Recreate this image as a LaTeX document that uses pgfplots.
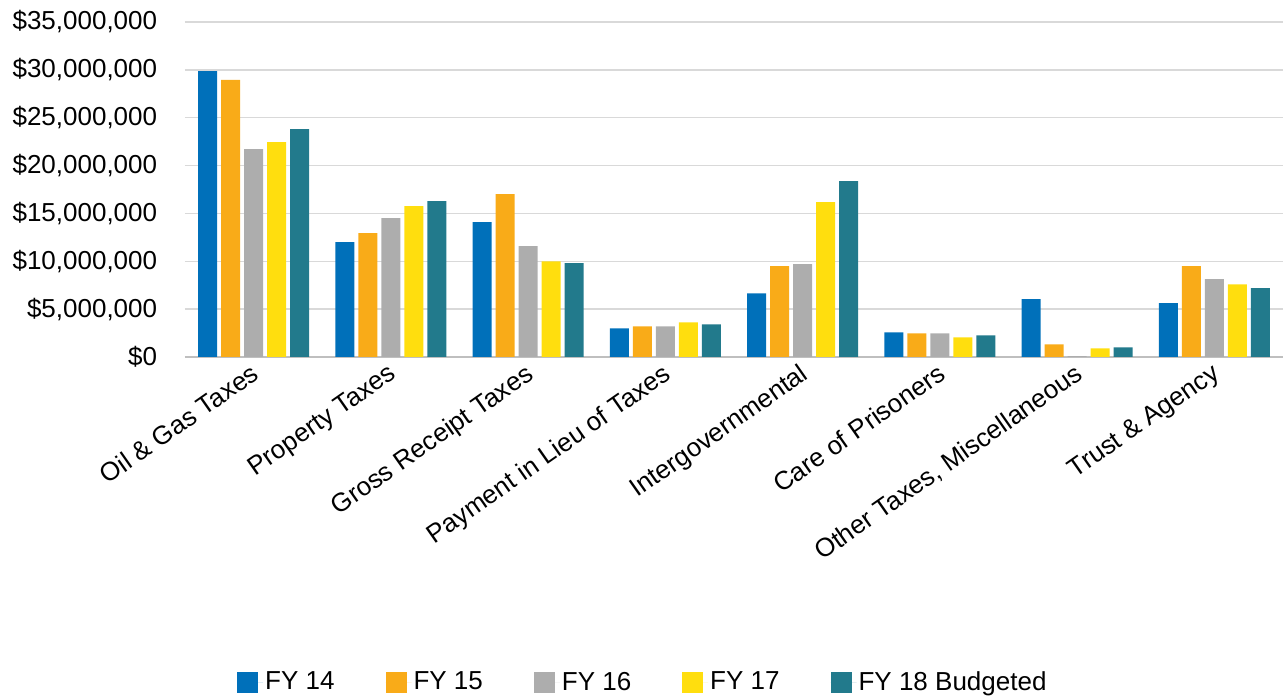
\documentclass[border=0pt]{standalone}
\usepackage{pgfplots}
\pgfplotsset{compat=1.18}
\usepackage{fontspec}
\setmainfont{Liberation Sans}
\definecolor{cA}{HTML}{0070BA}
\definecolor{cB}{HTML}{F9AB18}
\definecolor{cC}{HTML}{ADADAD}
\definecolor{cD}{HTML}{FFDE0E}
\definecolor{cE}{HTML}{227A8C}
\definecolor{gridc}{HTML}{D9D9D9}
\definecolor{basec}{HTML}{BFBFBF}
\begin{document}
\fontsize{26}{30}\selectfont
\begin{tikzpicture}
\path[use as bounding box] (0,0) rectangle (1283pt,698pt);
\begin{axis}[
  at={(185pt,341pt)}, anchor=south west,
  scale only axis, width=1098pt, height=335pt,
  xmin=-0.5, xmax=7.5, ymin=0, ymax=35000000,
  ybar=4pt, bar width=19pt,
  axis x line*=bottom, axis y line*=left,
  y axis line style={draw=none},
  x axis line style={draw=basec, line width=1.5pt},
  major tick length=0pt,
  xtick={0,1,2,3,4,5,6,7},
  xticklabels={Oil \& Gas Taxes, Property Taxes, Gross Receipt Taxes, Payment in Lieu of Taxes, Intergovernmental, Care of Prisoners, {Other Taxes, Miscellaneous}, Trust \& Agency},
  xticklabel style={rotate=35, anchor=north east, font=\fontsize{26}{30}\selectfont, inner sep=2pt, xshift=-4pt},
  ytick={0,5000000,10000000,15000000,20000000,25000000,30000000,35000000},
  yticklabels={{\$0},{\$5,000,000},{\$10,000,000},{\$15,000,000},{\$20,000,000},{\$25,000,000},{\$30,000,000},{\$35,000,000}},
  yticklabel style={font=\fontsize{26}{30}\selectfont, xshift=-19pt},
  ymajorgrids, grid style={draw=gridc, line width=1.5pt},
  scaled y ticks=false,
  legend columns=5,
  legend style={at={(0.417,-0.973)}, anchor=center, draw=none, fill=none,
    font=\fontsize{26}{30}\selectfont,
    /tikz/every even column/.append style={column sep=49pt}},
  legend image code/.code={\fill[#1] (0pt,-10.5pt) rectangle (21pt,10.5pt); \path (0pt,0pt) -- (26pt,0pt);},
  legend cell align=left,
]
\addplot[fill=cA, draw=none] coordinates {(0,29880000) (1,12000000) (2,14090000) (3,3000000) (4,6660000) (5,2580000) (6,6040000) (7,5620000)};
\addplot[fill=cB, draw=none] coordinates {(0,28940000) (1,12940000) (2,17020000) (3,3210000) (4,9490000) (5,2480000) (6,1330000) (7,9490000)};
\addplot[fill=cC, draw=none] coordinates {(0,21720000) (1,14510000) (2,11580000) (3,3210000) (4,9700000) (5,2480000) (6,80000) (7,8130000)};
\addplot[fill=cD, draw=none] coordinates {(0,22460000) (1,15760000) (2,10000000) (3,3630000) (4,16180000) (5,2060000) (6,910000) (7,7600000)};
\addplot[fill=cE, draw=none] coordinates {(0,23820000) (1,16290000) (2,9800000) (3,3420000) (4,18380000) (5,2270000) (6,1010000) (7,7190000)};
\legend{FY 14, FY 15, FY 16, FY 17, FY 18 Budgeted}
\end{axis}
\end{tikzpicture}
\end{document}
